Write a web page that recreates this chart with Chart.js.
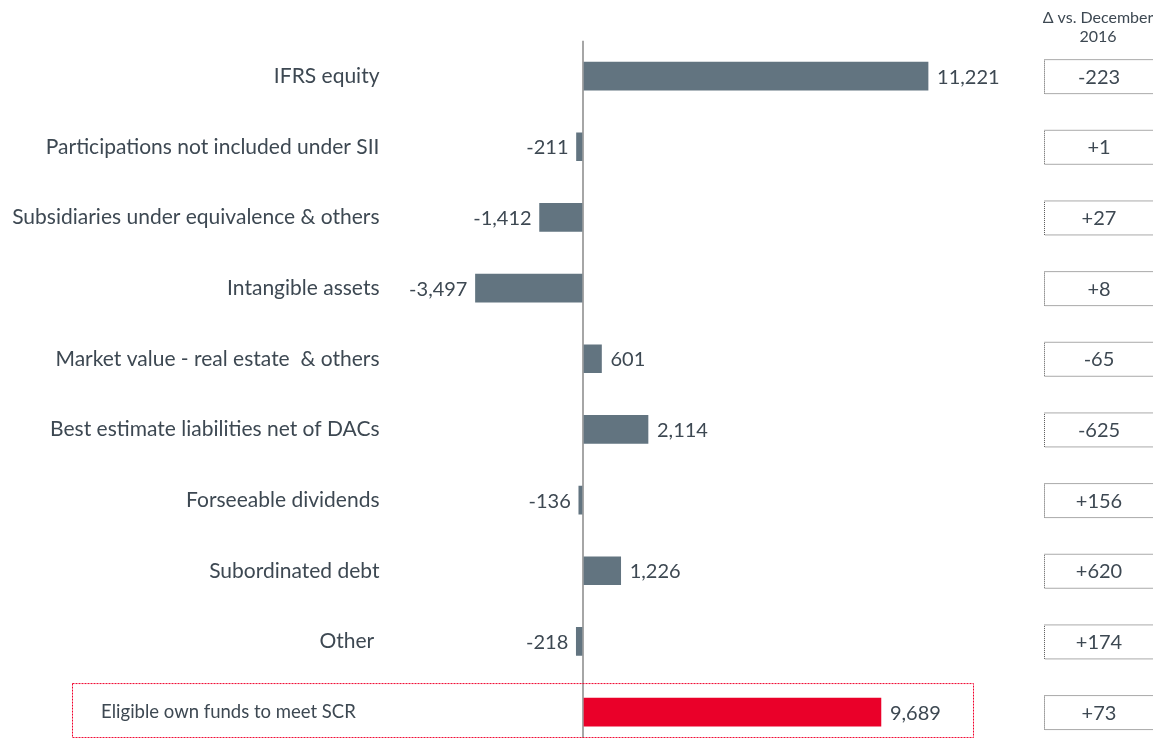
<!DOCTYPE html>
<html>
<head>
<meta charset="utf-8">
<script src="https://cdn.jsdelivr.net/npm/chart.js@4"></script>
<style>
  html, body { margin: 0; padding: 0; background: #fff; overflow: hidden; }
  #wrap { position: relative; width: 1153px; height: 771px; }
</style>
</head>
<body>
<div id="wrap"><canvas id="myChart" width="1153" height="771"></canvas></div>
<script>
var categories = [
  'IFRS equity',
  'Participations not included under SII',
  'Subsidiaries under equivalence & others',
  'Intangible assets',
  'Market value - real estate  & others',
  'Best estimate liabilities net of DACs',
  'Forseeable dividends',
  'Subordinated debt',
  'Other ',
  'Eligible own funds to meet SCR     '
];
var values = [11221, -211, -1412, -3497, 601, 2114, -136, 1226, -218, 9689];
var deltas = ['-223', '+1', '+27', '+8', '-65', '-625', '+156', '+620', '+174', '+73'];
var deltaTitle = ['\u0394 vs. December', '2016'];

var grey = '#627480';
var red = '#EA0029';
var textColor = '#3d4852';
var font = 'Lato, "Open Sans", sans-serif';

var barColors = values.map(function (v, i) { return i === values.length - 1 ? red : grey; });

var extras = {
  id: 'extras',
  afterDatasetsDraw: function (chart) {
    var c = chart.ctx;
    var meta = chart.getDatasetMeta(0);
    var y = chart.scales.y;
    c.save();
    // value labels
    c.font = '20px ' + font;
    c.fillStyle = textColor;
    c.textBaseline = 'middle';
    meta.data.forEach(function (bar, i) {
      var v = values[i];
      var txt = v.toLocaleString('en-US');
      if (v >= 0) {
        c.textAlign = 'left';
        c.fillText(txt, bar.x + 9, bar.y + 1);
      } else {
        c.textAlign = 'right';
        c.fillText(txt, bar.x - 8, bar.y + 1);
      }
    });
    // delta boxes
    c.setLineDash([1, 1]);
    c.lineWidth = 1;
    c.strokeStyle = '#555';
    deltas.forEach(function (d, i) {
      var cy = y.getPixelForValue(i);
      c.strokeRect(1044.5, cy - 16.5, 120, 34);
      c.textAlign = 'center';
      c.fillText(d, 1099, cy + 1);
    });
    // highlight box
    var last = y.getPixelForValue(values.length - 1);
    c.strokeStyle = '#f0002c';
    c.setLineDash([2, 1]);
    c.strokeRect(72.5, last - 28.5, 901, 54);
    c.setLineDash([]);
    // header
    c.font = '16px ' + font;
    c.textAlign = 'center';
    c.fillText(deltaTitle[0], 1098, 18);
    c.fillText(deltaTitle[1], 1098, 37);
    c.restore();
  }
};

var ctx = document.getElementById('myChart').getContext('2d');
var myChart = new Chart(ctx, {
  type: 'bar',
  data: {
    labels: categories,
    datasets: [{
      data: values,
      backgroundColor: barColors,
      barThickness: 28,
      borderWidth: 0
    }]
  },
  options: {
    indexAxis: 'y',
    responsive: false,
    animation: false,
    layout: { padding: { top: 40.8, bottom: 4.8, left: 0, right: 139.5 } },
    plugins: {
      legend: { display: false },
      tooltip: { enabled: false }
    },
    scales: {
      x: {
        min: -6000,
        max: 14000,
        display: true,
        afterFit: function (scale) { scale.height = 0; },
        ticks: { display: false },
        border: { display: false },
        grid: {
          drawTicks: false,
          lineWidth: 2,
          color: function (c) { return c.tick && c.tick.value === 0 ? '#a6a6a6' : 'rgba(0,0,0,0)'; }
        }
      },
      y: {
        afterFit: function (scale) { scale.width = 398.5; },
        border: { display: false },
        grid: { display: false },
        ticks: {
          padding: 11,
          color: textColor,
          font: function (c) {
            return { family: font, size: c.index === categories.length - 1 ? 18.5 : 21 };
          }
        }
      }
    }
  },
  plugins: [extras]
});
</script>
</body>
</html>
